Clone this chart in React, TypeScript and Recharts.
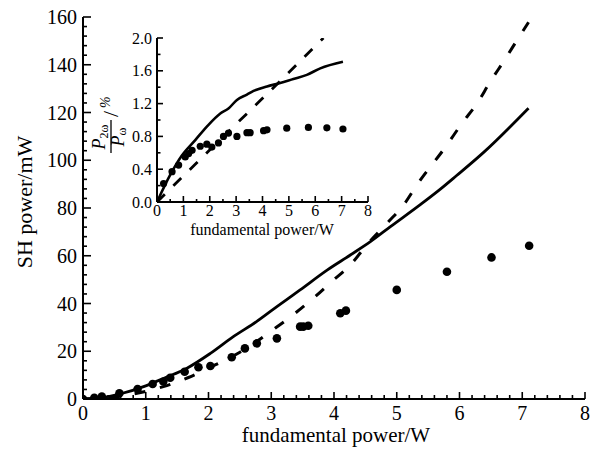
import React from 'react';
import { ComposedChart, Line, Scatter, XAxis, YAxis } from 'recharts';

// ---------- main chart data ----------
const dotX = [0, 0.18, 0.3, 0.58, 0.87, 1.11, 1.28, 1.39, 1.62, 1.84, 2.03, 2.37, 2.58, 2.77, 3.09, 3.46, 3.51, 3.59, 4.1, 4.19, 5.0, 5.8, 6.51, 7.11];
const dotY = [0, 0.5, 1, 2.4, 4.2, 6.3, 7.3, 8.9, 11.4, 13.3, 13.8, 17.5, 21.2, 23.3, 25.4, 30.3, 30.3, 30.7, 35.9, 37.0, 45.7, 53.3, 59.3, 64.2];

const solidX = [0, 0.3, 0.6, 1.0, 1.3, 1.65, 2.03, 2.39, 2.77, 3.09, 3.46, 3.89, 4.26, 4.58, 4.9, 5.37, 5.69, 5.95, 6.38, 7.1];
const solidY = [0, 0.6, 2.2, 5.5, 8.8, 12.8, 19.1, 26, 32.5, 38.7, 45.7, 54, 60.3, 65.9, 72.2, 81.3, 87.8, 93.5, 103.2, 121.8];

const dashX = [0, 0.5, 0.88, 1.28, 1.68, 2.03, 2.5, 3.06, 3.38, 3.7, 3.99, 4.26, 4.52, 4.87, 5.11, 5.32, 5.8, 6.04, 6.28, 6.49, 6.7, 6.92, 7.1];
const dashY = [0, 0.8, 2.5, 5.2, 9.0, 13.3, 19.6, 29.6, 35.9, 42.9, 49.8, 56.1, 64.5, 74.3, 81.3, 89.6, 106.4, 115.5, 123.8, 132.9, 141.3, 150.4, 157.8];

// ---------- inset data ----------
const inDotX = [0.25, 0.57, 0.82, 1.07, 1.2, 1.33, 1.64, 1.89, 2.08, 2.33, 2.52, 2.71, 3.03, 3.41, 3.53, 4.04, 4.17, 4.92, 5.74, 6.44, 7.05];
const inDotY = [0.225, 0.37, 0.45, 0.55, 0.59, 0.63, 0.68, 0.705, 0.67, 0.72, 0.8, 0.84, 0.8, 0.845, 0.845, 0.87, 0.88, 0.9, 0.91, 0.905, 0.89];

const inSolidX = [0, 0.5, 0.95, 1.45, 1.89, 2.4, 2.71, 3.03, 3.41, 3.66, 4.17, 4.67, 5.17, 5.68, 6.19, 7.05];
const inSolidY = [0, 0.33, 0.57, 0.755, 0.92, 1.08, 1.14, 1.245, 1.31, 1.355, 1.41, 1.45, 1.5, 1.55, 1.63, 1.71];

const inDashX = [0, 0.63, 1.45, 3.0, 4.5, 6.31];
const inDashY = [0, 0.2, 0.46, 0.95, 1.42, 2.0];

// ---------- tick labels ----------
const mainXLabels = [0, 1, 2, 3, 4, 5, 6, 7, 8];
const mainYLabels = [0, 20, 40, 60, 80, 100, 120, 140, 160];
const inXLabels = [0, 1, 2, 3, 4, 5, 6, 7, 8];
const inYLabels = [0, 0.4, 0.8, 1.2, 1.6, 2.0];

const range = (a: number, b: number, s: number) => {
  const out: number[] = [];
  for (let v = a; v <= b + 1e-9; v += s) out.push(Math.round(v * 1000) / 1000);
  return out;
};

const zip = (xs: number[], ys: number[]) => xs.map((x, i) => ({ x, y: ys[i] }));

const FONT = '"Liberation Serif", "Times New Roman", Times, serif';

const isLabel = (labels: number[], v: number) => labels.some((l) => Math.abs(l - v) < 1e-6);

const makeXTick = (labels: number[], majorLen: number, minorLen: number, fs: number, dy: number, fmt: (v: number) => string) => (props: any) => {
  const { x, y, payload } = props;
  const major = isLabel(labels, payload.value);
  return (
    <g key={`xt-${payload.value}`}>
      <line x1={x} x2={x} y1={y} y2={y - (major ? majorLen : minorLen)} stroke="#000" strokeWidth={1.6} />
      {major && (
        <text x={x} y={y + dy} textAnchor="middle" fontSize={fs} fontFamily={FONT} fill="#000">
          {fmt(payload.value)}
        </text>
      )}
    </g>
  );
};

const makeYTick = (labels: number[], majorLen: number, minorLen: number, fs: number, dx: number, fmt: (v: number) => string) => (props: any) => {
  const { x, y, payload } = props;
  const major = isLabel(labels, payload.value);
  return (
    <g key={`yt-${payload.value}`}>
      <line x1={x} x2={x + (major ? majorLen : minorLen)} y1={y} y2={y} stroke="#000" strokeWidth={1.6} />
      {major && (
        <text x={x - dx} y={y} textAnchor="end" dominantBaseline="central" fontSize={fs} fontFamily={FONT} fill="#000">
          {fmt(payload.value)}
        </text>
      )}
    </g>
  );
};

const Dot = (r: number) => (p: any) => <circle cx={p.cx} cy={p.cy} r={r} fill="#000" />;

export default function App() {
  const mainDots = zip(dotX, dotY);
  const mainSolid = zip(solidX, solidY);
  const mainDash = zip(dashX, dashY);
  const inDots = zip(inDotX, inDotY);
  const inSolid = zip(inSolidX, inSolidY);
  const inDash = zip(inDashX, inDashY);

  return (
    <div style={{ position: 'absolute', left: 0, top: 0, width: 598, height: 449, background: '#fff' }}>
      <div style={{ position: 'absolute', left: 0, top: 0 }}>
        <ComposedChart width={598} height={449} margin={{ top: 17, right: 13, left: 0, bottom: 0 }}>
          <XAxis
            type="number"
            dataKey="x"
            domain={[0, 8]}
            ticks={range(0, 8, 0.2)}
            interval={0}
            height={50}
            tickSize={0}
            tickMargin={0}
            tickLine={false}
            axisLine={{ stroke: '#000', strokeWidth: 2 }}
            tick={makeXTick(mainXLabels, 7, 4, 20, 21, (v) => String(v))}
            allowDataOverflow
          />
          <YAxis
            type="number"
            dataKey="y"
            domain={[0, 160]}
            ticks={range(0, 160, 4)}
            interval={0}
            width={83}
            tickSize={0}
            tickMargin={0}
            tickLine={false}
            axisLine={{ stroke: '#000', strokeWidth: 2 }}
            tick={makeYTick(mainYLabels, 8, 4, 20, 6, (v) => String(v))}
            allowDataOverflow
          />
          <Line data={mainSolid} dataKey="y" type="monotone" stroke="#000" strokeWidth={2.8} dot={false} isAnimationActive={false} />
          <Line data={mainDash} dataKey="y" type="monotone" stroke="#000" strokeWidth={3} strokeDasharray="11 15" dot={false} isAnimationActive={false} />
          <Scatter data={mainDots} dataKey="y" shape={Dot(4.3)} isAnimationActive={false} />
        </ComposedChart>
      </div>

      <div style={{ position: 'absolute', left: 100, top: 20 }}>
        <ComposedChart width={280} height={225} margin={{ top: 18, right: 12, left: 0, bottom: 0 }}>
          <XAxis
            type="number"
            dataKey="x"
            domain={[0, 8]}
            ticks={range(0, 8, 0.5)}
            interval={0}
            height={43}
            tickSize={0}
            tickMargin={0}
            tickLine={false}
            axisLine={{ stroke: '#000', strokeWidth: 2 }}
            tick={makeXTick(inXLabels, 6, 3, 16, 14, (v) => String(v))}
            allowDataOverflow
          />
          <YAxis
            type="number"
            dataKey="y"
            domain={[0, 2]}
            ticks={range(0, 2, 0.2)}
            interval={0}
            width={57}
            tickSize={0}
            tickMargin={0}
            tickLine={false}
            axisLine={{ stroke: '#000', strokeWidth: 2 }}
            tick={makeYTick(inYLabels, 6, 3.5, 16, 5, (v) => v.toFixed(1))}
            allowDataOverflow
          />
          <Line data={inSolid} dataKey="y" type="monotone" stroke="#000" strokeWidth={2.6} dot={false} isAnimationActive={false} />
          <Line data={inDash} dataKey="y" type="linear" stroke="#000" strokeWidth={2.8} strokeDasharray="11 12" dot={false} isAnimationActive={false} />
          <Scatter data={inDots} dataKey="y" shape={Dot(3.6)} isAnimationActive={false} />
        </ComposedChart>
      </div>

      <svg width={598} height={449} style={{ position: 'absolute', left: 0, top: 0, pointerEvents: 'none' }}>
        <text x={336} y={442} textAnchor="middle" fontSize={21} fontFamily={FONT} fill="#000">
          fundamental power/W
        </text>
        <text
          transform="translate(24,202) rotate(-90)"
          textAnchor="middle"
          dominantBaseline="central"
          fontSize={22}
          fontFamily={FONT}
          fill="#000"
        >
          SH power/mW
        </text>
        <text x={262} y={235} textAnchor="middle" fontSize={16} fontFamily={FONT} fill="#000">
          fundamental power/W
        </text>
        <g transform="translate(111,137) rotate(-90)" fontFamily={FONT} fill="#000">
          <line x1={-16} x2={17} y1={0} y2={0} stroke="#000" strokeWidth={1.3} />
          <text x={0} y={-6} textAnchor="middle" fontSize={18}>
            <tspan fontStyle="italic">P</tspan>
            <tspan fontSize={12} dy={3}>2ω</tspan>
          </text>
          <text x={0} y={13} textAnchor="middle" fontSize={18}>
            <tspan fontStyle="italic">P</tspan>
            <tspan fontSize={12} dy={2}>ω</tspan>
          </text>
          <text x={20} y={7} fontSize={22}>/</text>
          <text x={29} y={-1} fontSize={14} fontStyle="italic">%</text>
        </g>
      </svg>
    </div>
  );
}
